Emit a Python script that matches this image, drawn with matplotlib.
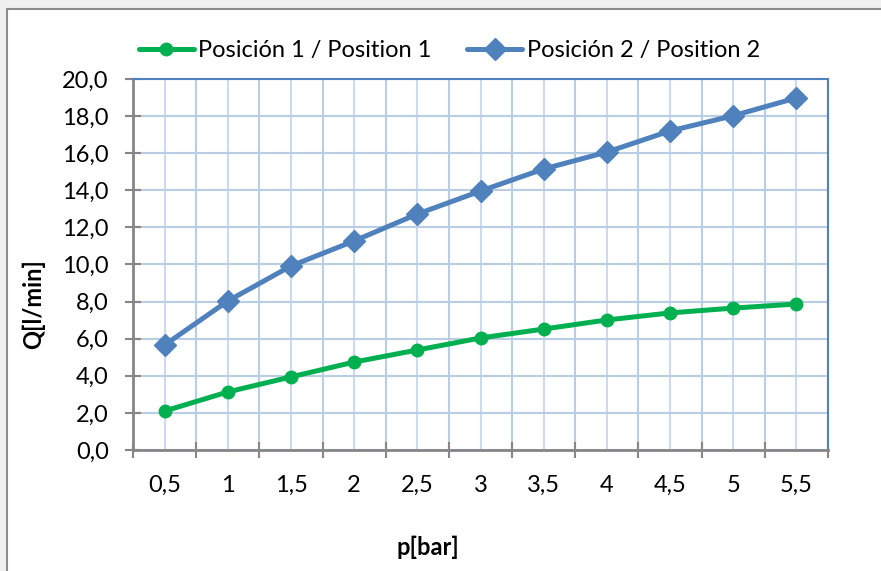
import numpy as np
import matplotlib
matplotlib.use('Agg')
import matplotlib.pyplot as plt
from matplotlib.patches import Rectangle

plt.rcParams['font.family'] = ['Lato', 'DejaVu Sans']

presion = ['0,5', '1', '1,5', '2', '2,5', '3', '3,5', '4', '4,5', '5', '5,5']
pos1 = [2.10, 3.13, 3.94, 4.74, 5.39, 6.04, 6.52, 7.01, 7.39, 7.65, 7.87]
pos2 = [5.66, 8.03, 9.92, 11.27, 12.72, 13.96, 15.15, 16.06, 17.20, 18.02, 18.98]
yticks = [0, 2, 4, 6, 8, 10, 12, 14, 16, 18, 20]

green = '#00B050'
blue = '#4F81BD'
grid_c = '#B9CDE5'
axis_c = '#868686'

fig = plt.figure(figsize=(8.81, 5.71), dpi=100, facecolor='#F0F0F0')
# chart area (white box with grey border)
fig.patches.append(Rectangle((7 / 881, -0.05), 1.0, (571 - 9) / 571 + 0.05,
                             transform=fig.transFigure, facecolor='white',
                             edgecolor='#8C8C8C', lw=1.5, zorder=-5))

ax = fig.add_axes([133 / 881, 121 / 571, 695 / 881, 371 / 571])
ax.set_zorder(2)
x = np.arange(len(presion))

ax.plot(x, pos1, color=green, lw=3.6, marker='o', ms=9, label='Posición 1 / Position 1',
        solid_capstyle='round', zorder=3)
ax.plot(x, pos2, color=blue, lw=3.6, marker='D', ms=11, label='Posición 2 / Position 2',
        solid_capstyle='round', zorder=3)

ax.set_xlim(-0.5, len(presion) - 0.5)
ax.set_ylim(0, 20)
ax.set_yticks(yticks)
ax.yaxis.set_major_formatter(matplotlib.ticker.FuncFormatter(lambda v, p: ('%.1f' % v).replace('.', ',')))

# category boundaries carry the ticks, labels sit at the centres
ax.set_xticks(np.arange(-0.5, len(presion), 1.0))
ax.set_xticklabels([])
ax.set_xticks(x, minor=True)
ax.set_xticklabels(presion, minor=True)

ax.grid(True, which='major', axis='both', color=grid_c, lw=1.5, zorder=1)
ax.grid(True, which='minor', axis='x', color='#CCD9EE', lw=1.5, zorder=1)

ax.tick_params(axis='both', which='major', direction='inout', length=11, width=1.5,
               color=axis_c, labelsize=17, pad=7)
ax.tick_params(axis='x', which='minor', length=0, labelsize=17, pad=18)
ax.tick_params(axis='y', pad=12)

for s in ['left', 'bottom']:
    ax.spines[s].set_color(axis_c)
    ax.spines[s].set_linewidth(2)
for s in ['top', 'right']:
    ax.spines[s].set_color(blue)
    ax.spines[s].set_linewidth(1.5)

ax.set_xlabel('p[bar]', fontsize=17, fontweight='bold')
ax.xaxis.set_label_coords(0.424, -0.232)
ax.set_ylabel('Q[l/min]', fontsize=17, fontweight='bold')
ax.yaxis.set_label_coords(-0.127, 0.394)

ax.legend(loc='center', bbox_to_anchor=(0.455, 1.076), ncol=2, frameon=False,
          fontsize=17, handlelength=2.33, columnspacing=1.5, handletextpad=0.2,
          borderaxespad=0.0)

fig.savefig('out.png', dpi=100, facecolor=fig.get_facecolor())
